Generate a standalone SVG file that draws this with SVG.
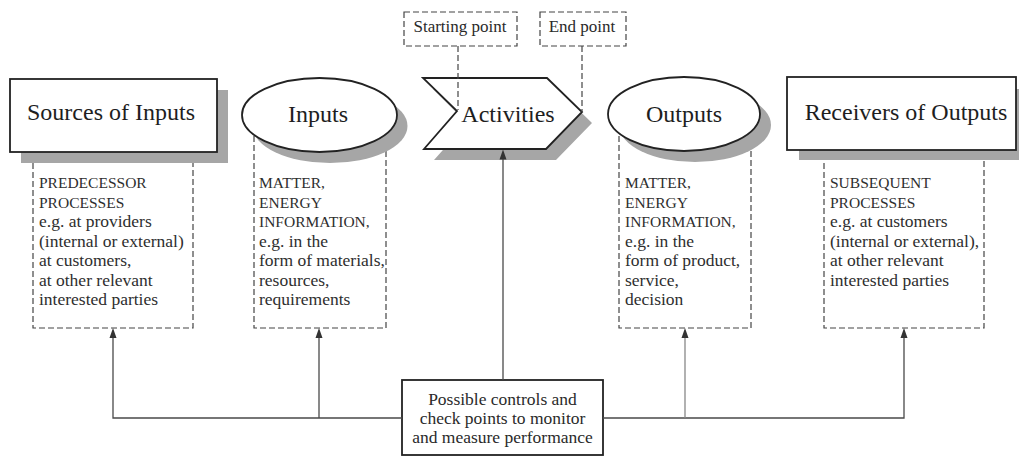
<svg xmlns="http://www.w3.org/2000/svg" width="1019" height="457" viewBox="0 0 1019 457">
<defs>
<style>
.node{fill:#fff;stroke:#222;stroke-width:1.8}
.shadow{fill:#a6a6a6;stroke:none}
.dash{fill:none;stroke:#444;stroke-width:1.2;stroke-dasharray:6 3}
.title{font-family:"Liberation Serif",serif;font-size:24px;fill:#1e1e1e;text-anchor:middle}
.label{font-family:"Liberation Serif",serif;font-size:17px;fill:#2a2a2a;text-anchor:middle}
.body{font-family:"Liberation Serif",serif;font-size:17.5px;fill:#2e2e2e}
.caps{font-size:15.5px}
.conn{fill:none;stroke:#4a4a4a;stroke-width:1.3}
.head{fill:#333}
</style>
</defs>
<rect width="1019" height="457" fill="#fff"/>

<g id="sources-of-inputs">
<rect class="dash" x="33" y="150" width="160" height="178"/>
<rect class="shadow" x="21" y="90" width="207" height="73"/>
<rect class="node" x="10" y="79" width="207" height="73"/>
<text class="title" x="111" y="120">Sources of Inputs</text>
<text class="body" x="39" y="188"><tspan class="caps">PREDECESSOR</tspan><tspan class="caps" x="39" dy="19.5">PROCESSES</tspan><tspan x="39" dy="19.5">e.g. at providers</tspan><tspan x="39" dy="19.5">(internal or external)</tspan><tspan x="39" dy="19.5">at customers,</tspan><tspan x="39" dy="19.5">at other relevant</tspan><tspan x="39" dy="19.5">interested parties</tspan></text>
</g>

<g id="inputs">
<rect class="dash" x="254" y="130" width="132" height="198"/>
<ellipse class="shadow" cx="330" cy="126" rx="77.5" ry="37"/>
<ellipse class="node" cx="319.5" cy="115" rx="77.5" ry="37"/>
<text class="title" x="318" y="122">Inputs</text>
<text class="body" x="259" y="188"><tspan class="caps">MATTER,</tspan><tspan class="caps" x="259" dy="19.5">ENERGY</tspan><tspan class="caps" x="259" dy="19.5">INFORMATION,</tspan><tspan x="259" dy="19.5">e.g. in the</tspan><tspan x="259" dy="19.5">form of materials,</tspan><tspan x="259" dy="19.5">resources,</tspan><tspan x="259" dy="19.5">requirements</tspan></text>
</g>

<g id="starting-point">
<rect class="dash" x="404" y="12" width="113" height="34"/>
<text class="label" x="460" y="32">Starting point</text>
</g>

<g id="end-point">
<rect class="dash" x="540" y="12" width="86" height="34"/>
<text class="label" x="582" y="32">End point</text>
</g>

<g id="activities">
<polygon class="shadow" points="433,89 557,89 592,123 556,160 434,160 467,123"/>
<polygon class="node" points="423,78 547,78 582,112 546,149 424,149 457,111"/>
<text class="title" x="508" y="122">Activities</text>
</g>

<g id="outputs">
<rect class="dash" x="619" y="130" width="132" height="198"/>
<ellipse class="shadow" cx="695" cy="125" rx="76" ry="37"/>
<ellipse class="node" cx="684" cy="114" rx="76" ry="37"/>
<text class="title" x="684" y="122">Outputs</text>
<text class="body" x="625" y="188"><tspan class="caps">MATTER,</tspan><tspan class="caps" x="625" dy="19.5">ENERGY</tspan><tspan class="caps" x="625" dy="19.5">INFORMATION,</tspan><tspan x="625" dy="19.5">e.g. in the</tspan><tspan x="625" dy="19.5">form of product,</tspan><tspan x="625" dy="19.5">service,</tspan><tspan x="625" dy="19.5">decision</tspan></text>
</g>

<g id="receivers-of-outputs">
<rect class="dash" x="824" y="150" width="160" height="178"/>
<rect class="shadow" x="799" y="89" width="225" height="71"/>
<rect class="node" x="787" y="77" width="229" height="73"/>
<text class="title" x="906" y="120">Receivers of Outputs</text>
<text class="body" x="830" y="188"><tspan class="caps">SUBSEQUENT</tspan><tspan class="caps" x="830" dy="19.5">PROCESSES</tspan><tspan x="830" dy="19.5">e.g. at customers</tspan><tspan x="830" dy="19.5">(internal or external),</tspan><tspan x="830" dy="19.5">at other relevant</tspan><tspan x="830" dy="19.5">interested parties</tspan></text>
</g>

<g id="controls">
<rect class="node" x="402" y="380" width="201" height="75"/>
<text class="label" x="502.5" y="405" style="font-size:17.5px">Possible controls and</text>
<text class="label" x="502.5" y="424" style="font-size:17.5px">check points to monitor</text>
<text class="label" x="502.5" y="443" style="font-size:17.5px">and measure performance</text>
</g>

<g id="connectors">
<polyline class="conn" points="402,418 113,418 113,336"/>
<line class="conn" x1="319" y1="418" x2="319" y2="336"/>
<line class="conn" x1="503" y1="380" x2="503" y2="157"/>
<polyline class="conn" points="603,418 904,418 904,336"/>
<line class="conn" x1="685" y1="418" x2="685" y2="336" style="stroke:#888"/>
<path class="head" d="M113,328 l-3.5,10 h7 z M319,328 l-3.5,10 h7 z M503,149.5 l-3.5,10 h7 z M685,328 l-3.5,10 h7 z M904,328 l-3.5,10 h7 z"/>
<line class="dash" x1="458" y1="46" x2="458" y2="110"/>
<line class="dash" x1="582" y1="46" x2="582" y2="112"/>
</g>
</svg>
